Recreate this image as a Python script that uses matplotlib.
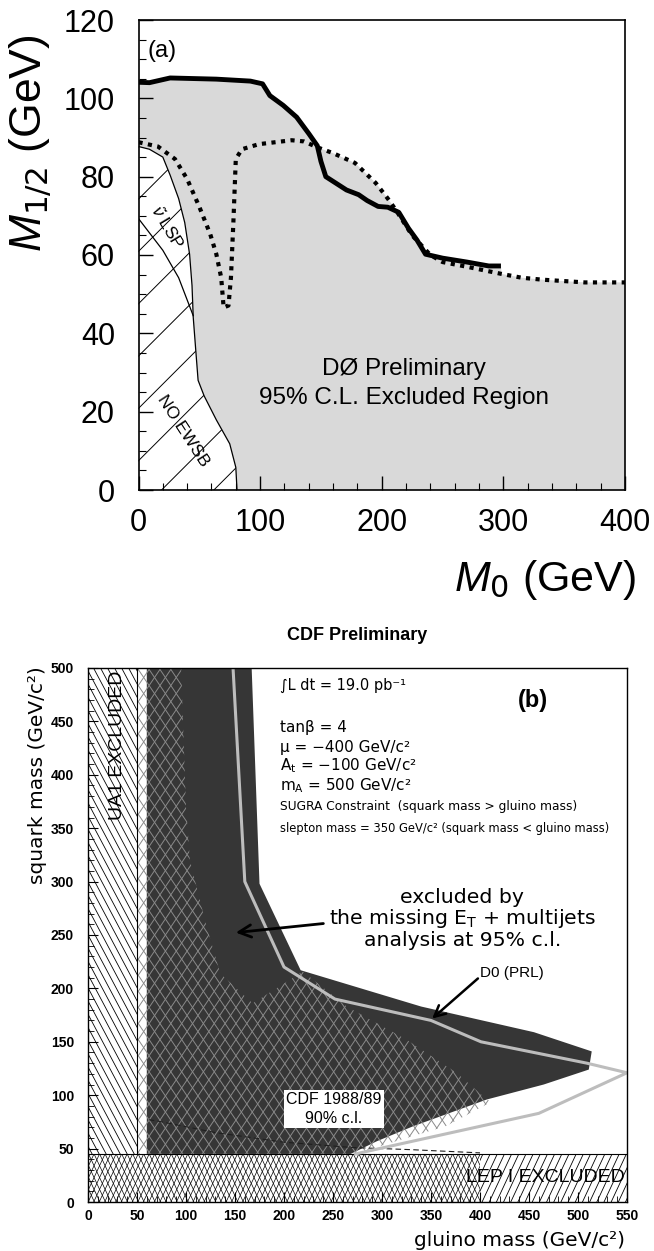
import numpy as np
import matplotlib
matplotlib.use('Agg')
import matplotlib.pyplot as plt
from matplotlib.patches import Polygon
from matplotlib.collections import LineCollection
from matplotlib.ticker import MultipleLocator

plt.rcParams['font.family'] = ['Liberation Sans', 'DejaVu Sans']
plt.rcParams['mathtext.fontset'] = 'custom'
plt.rcParams['mathtext.rm'] = 'DejaVu Sans'
plt.rcParams['mathtext.it'] = 'Liberation Sans:italic'

# ---- panel (a): D0 limit in the (M0, M1/2) plane ----
m0_solid = [0, 9, 26, 64, 92, 102, 108, 119, 130, 140, 147, 150, 154, 164, 171,
            181, 188, 197, 205, 214, 222, 229, 236, 250, 270, 288, 298]
m12_solid = [104.1, 104, 105.2, 104.9, 104.4, 103.7, 100.7, 98.2, 95.2, 91, 87.9,
             83.9, 80, 78, 76.6, 75.4, 73.9, 72.4, 72.2, 70.9, 66.8, 63.8, 60.2,
             59.2, 58.2, 57.2, 57.2]
m0_dotted = [0, 16, 30, 40, 50, 59, 64, 68, 70, 74, 76, 78, 80, 85, 99, 126, 136,
             147, 160, 178, 195, 205, 212, 225, 240, 250, 270, 298, 315, 332, 367, 400]
m12_dotted = [88.8, 87.7, 84.5, 79.4, 72.3, 65.3, 60.2, 54.2, 46.6, 47.1, 54.2,
              68.3, 84.5, 87, 88.3, 89.3, 89, 87.5, 86, 83.5, 78.4, 74.4, 71.3, 65,
              60, 58.2, 57, 55.2, 54.2, 53.7, 53, 53]
m0_ewsb = [0, 9, 20, 26, 33, 38, 42, 44, 45, 47, 49, 54, 64, 75, 80, 81]
m12_ewsb = [87.7, 87, 85, 80.4, 74.4, 68.3, 60.2, 52.2, 44.1, 36, 28, 24, 17.9,
            11.8, 5.8, 0]
m0_lsp = [0, 20, 33, 45]
m12_lsp = [69.3, 61.2, 54.2, 44.5]

# ---- panel (b): CDF limit in the (gluino, squark) plane ----
dark_x = [60, 60, 167, 175, 217, 340, 455, 514, 511, 465, 407, 332, 295, 268]
dark_y = [45, 500, 500, 298, 217, 183, 159, 141, 124, 110, 96, 71, 57, 45]
cdf_x = [50, 50, 95, 100, 104, 121, 135, 168, 206, 219, 264, 325, 376, 407, 412,
         365, 311, 290, 275]
cdf_y = [45, 500, 500, 370, 320, 258, 214, 186, 208, 216, 183, 152, 121, 96, 94,
         71, 56, 50, 45]
d0_x = [148, 160, 200, 252, 350, 401, 509, 550, 460, 307, 273]
d0_y = [500, 300, 220, 190, 170, 150, 130, 121, 83, 52, 45]
old_x = [62, 70, 130, 200, 270, 330, 400]
old_y = [77, 76, 65, 56, 51, 49, 46]
ua1_max = 50
lep_max = 45


def hatch(ax, patch, angle, step, color='k', lw=0.6, z=2):
    # family of parallel lines (angle / step in pixels) clipped to a patch
    fig = ax.figure
    bb = ax.get_position()
    W = bb.width * fig.get_figwidth() * fig.dpi
    H = bb.height * fig.get_figheight() * fig.dpi
    t = np.radians(angle)
    d = np.array([np.cos(t), np.sin(t)])
    n = np.array([-np.sin(t), np.cos(t)])
    L = np.hypot(W, H)
    segs = []
    for off in np.arange(-L, L, step):
        c = np.array([W / 2, H / 2]) + off * n
        segs.append([(c - L * d) / [W, H], (c + L * d) / [W, H]])
    lc = LineCollection(segs, colors=color, linewidths=lw, transform=ax.transAxes,
                        zorder=z)
    lc.set_clip_path(patch)
    ax.add_collection(lc, autolim=False)


fig = plt.figure(figsize=(6.54, 12.51), dpi=100)

# ===================== (a) =====================
ax1 = fig.add_axes([138.5 / 654, 1 - 490 / 1251, (625 - 138.5) / 654, 470 / 1251])
ax1.set_xlim(0, 400)
ax1.set_ylim(0, 120)

xg = np.linspace(0, 400, 801)
top = np.interp(xg, m0_dotted, m12_dotted)
sol = np.interp(xg, m0_solid, m12_solid)
top = np.where(xg <= max(m0_solid), np.maximum(top, sol), top)
gray_pts = list(zip(xg, top)) + [(400, 0)] + list(zip(m0_ewsb[::-1], m12_ewsb[::-1]))
ax1.add_patch(Polygon(gray_pts, closed=True, facecolor='#d9d9d9', edgecolor='none', zorder=1))

white = Polygon(list(zip(m0_ewsb, m12_ewsb)) + [(0, 0)], closed=True,
                facecolor='white', edgecolor='none', zorder=1)
ax1.add_patch(white)
hatch(ax1, white, 45, 37, color='k', lw=0.7)

ax1.plot(m0_ewsb, m12_ewsb, color='k', lw=0.9, zorder=3)
ax1.plot(m0_lsp, m12_lsp, color='k', lw=0.9, zorder=3)
ax1.plot(m0_dotted, m12_dotted, color='k', lw=3, linestyle=(0, (1, 1.3)), zorder=4)
ax1.plot(m0_solid, m12_solid, color='k', lw=3.5, solid_capstyle='butt', zorder=5)

ax1.text(7, 112, '(a)', fontsize=17, ha='left', va='center')
ax1.text(218, 31, 'DØ Preliminary', fontsize=17.5, ha='center', va='center')
ax1.text(218, 23.5, '95% C.L. Excluded Region', fontsize=17.5, ha='center', va='center')
ax1.text(23, 67, r'$\tilde{\nu}$ LSP', fontsize=12.5, rotation=-59, ha='center', va='center',
         rotation_mode='anchor')
ax1.text(37, 15, 'NO EWSB', fontsize=12.5, rotation=-57, ha='center', va='center',
         rotation_mode='anchor')

ax1.xaxis.set_major_locator(MultipleLocator(100))
ax1.xaxis.set_minor_locator(MultipleLocator(20))
ax1.yaxis.set_major_locator(MultipleLocator(20))
ax1.yaxis.set_minor_locator(MultipleLocator(5))
ax1.tick_params(which='both', direction='in', top=False, right=False, labelsize=22)
ax1.tick_params(which='major', length=10, width=1)
ax1.tick_params(which='minor', length=5, width=0.8)
ax1.tick_params(axis='y', pad=17)
ax1.tick_params(axis='x', pad=13)
for s in ax1.spines.values():
    s.set_linewidth(1.2)

fig.text(31 / 654, 1 - 143 / 1251, r'$\mathit{M_{1/2}}$ (GeV)', fontsize=32,
         rotation=90, ha='center', va='center')
fig.text(636 / 654, 1 - 580 / 1251, r'$\mathit{M_0}$ (GeV)', fontsize=31,
         ha='right', va='center')

# ===================== (b) =====================
ax2 = fig.add_axes([88 / 654, 1 - 1202 / 1251, 539 / 654, 534 / 1251])
ax2.set_xlim(0, 550)
ax2.set_ylim(0, 500)

dark = Polygon(list(zip(dark_x, dark_y)), closed=True, facecolor='#363636',
               edgecolor='none', zorder=1)
ax2.add_patch(dark)
cdf = Polygon(list(zip(cdf_x, cdf_y)), closed=True, facecolor='none',
              edgecolor='none', zorder=1)
ax2.add_patch(cdf)
hatch(ax2, cdf, 56, 9, color='#8a8a8a', lw=0.7)
hatch(ax2, cdf, 124, 9, color='#8a8a8a', lw=0.7)

ua1 = Polygon([(0, lep_max), (ua1_max, lep_max), (ua1_max, 500), (0, 500)], closed=True,
              facecolor='white', edgecolor='none', zorder=1)
ax2.add_patch(ua1)
hatch(ax2, ua1, -62, 6.2, color='k', lw=0.6)

lep_a = Polygon([(0, 0), (400, 0), (400, lep_max), (0, lep_max)], closed=True,
                facecolor='white', edgecolor='none', zorder=1)
ax2.add_patch(lep_a)
hatch(ax2, lep_a, 65, 5, color='k', lw=0.5)
hatch(ax2, lep_a, 115, 5, color='k', lw=0.5)
lep_b = Polygon([(400, 0), (550, 0), (550, lep_max), (400, lep_max)], closed=True,
                facecolor='white', edgecolor='none', zorder=1)
ax2.add_patch(lep_b)
hatch(ax2, lep_b, 65, 6.5, color='k', lw=0.6)

ax2.axhline(lep_max, color='k', lw=0.8, zorder=3)
ax2.plot([ua1_max, ua1_max], [lep_max, 500], color='k', lw=0.8, zorder=3)
ax2.plot(old_x, old_y, color='#202020', lw=0.8, linestyle=(0, (5, 3)), zorder=3)
ax2.plot(d0_x, d0_y, color='#bdbdbd', lw=2.2, zorder=4)

ax2.annotate('', xy=(148, 252), xytext=(243, 261),
             arrowprops=dict(arrowstyle='->', color='k', lw=2, mutation_scale=22), zorder=6)
ax2.annotate('', xy=(349, 170), xytext=(400, 211),
             arrowprops=dict(arrowstyle='->', color='k', lw=1.8, mutation_scale=20), zorder=6)

dv = ['DejaVu Sans']
ax2.text(196, 484, '∫L dt = 19.0 pb⁻¹', fontsize=10.5, family=dv, va='center')
ax2.text(454, 470, '(b)', fontsize=17, fontweight='bold', ha='center', va='center')
ax2.text(196, 444, 'tanβ = 4', fontsize=11, family=dv, va='center')
ax2.text(196, 426, 'μ = −400 GeV/c²', fontsize=11, family=dv, va='center')
ax2.text(196, 408, r'A$_\mathrm{t}$ = −100 GeV/c²', fontsize=11, family=dv, va='center')
ax2.text(196, 390, r'm$_\mathrm{A}$ = 500 GeV/c²', fontsize=11, family=dv, va='center')
ax2.text(196, 370, 'SUGRA Constraint  (squark mass > gluino mass)', fontsize=8.8,
         family=dv, va='center')
ax2.text(196, 350, 'slepton mass = 350 GeV/c² (squark mass < gluino mass)', fontsize=8.3,
         family=dv, va='center')
ax2.text(382, 285, 'excluded by', fontsize=14.7, family=dv, ha='center', va='center')
ax2.text(382, 265, r'the missing E$_\mathrm{T}$ + multijets', fontsize=14.7, family=dv,
         ha='center', va='center')
ax2.text(382, 245, 'analysis at 95% c.l.', fontsize=14.7, family=dv, ha='center', va='center')
ax2.text(400, 214, 'D0 (PRL)', fontsize=11, ha='left', va='center')
ax2.text(251, 87, 'CDF 1988/89\n90% c.l.', fontsize=11.5, ha='center', va='center',
         linespacing=1.3, zorder=5,
         bbox=dict(facecolor='white', edgecolor='none', pad=1.5))
ax2.text(30, 428, 'UA1 EXCLUDED', fontsize=14, rotation=90, ha='center', va='center',
         zorder=5)
ax2.text(548, 23, 'LEP I EXCLUDED', fontsize=14, ha='right', va='center', zorder=5)

ax2.xaxis.set_major_locator(MultipleLocator(50))
ax2.xaxis.set_minor_locator(MultipleLocator(10))
ax2.yaxis.set_major_locator(MultipleLocator(50))
ax2.yaxis.set_minor_locator(MultipleLocator(10))
ax2.tick_params(which='both', direction='in', top=False, right=False, labelsize=10)
ax2.tick_params(which='major', length=7, width=0.8)
ax2.tick_params(which='minor', length=4, width=0.6)
ax2.tick_params(axis='y', pad=10)
ax2.tick_params(axis='x', pad=5)
for lab in ax2.get_xticklabels() + ax2.get_yticklabels():
    lab.set_fontweight('bold')
for s in ax2.spines.values():
    s.set_linewidth(1)
    s.set_zorder(7)

fig.text(357 / 654, 1 - 636 / 1251, 'CDF Preliminary', fontsize=13, fontweight='bold',
         ha='center', va='center')
fig.text(38 / 654, 1 - 775 / 1251, 'squark mass (GeV/c²)', fontsize=14.5, family=dv,
         rotation=90, ha='center', va='center')
fig.text(625 / 654, 1 - 1240 / 1251, 'gluino mass (GeV/c²)', fontsize=14.5, family=dv,
         ha='right', va='center')

fig.savefig('out.png', dpi=100)
